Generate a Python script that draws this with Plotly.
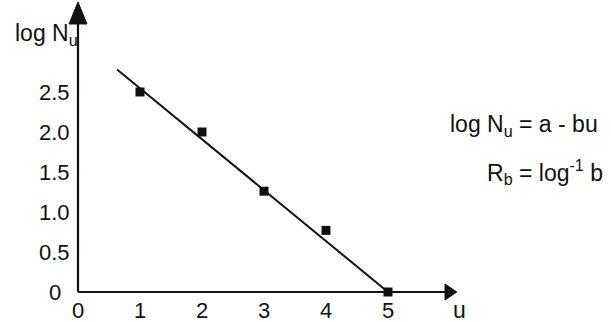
import plotly.graph_objects as go

# Observed points: u versus log N_u
u_values = [1, 2, 3, 4, 5]
log_nu = [2.5, 2.0, 1.26, 0.77, 0.0]

# Straight-line fit drawn through the points
fit_u = [0.63, 5.0]
fit_log_nu = [2.78, 0.0]

# Axis tick labels
x_ticks = [0, 1, 2, 3, 4, 5]
x_tick_text = ["0", "1", "2", "3", "4", "5"]
y_ticks = [0, 0.5, 1.0, 1.5, 2.0, 2.5]
y_tick_text = ["0", "0.5", "1.0", "1.5", "2.0", "2.5"]

FONT = "Liberation Sans, Arial, Helvetica, sans-serif"
INK = "#111111"
TICK_FONT = dict(size=22, color=INK, family=FONT)
TEXT_FONT = dict(size=23, color=INK, family=FONT)

fig = go.Figure()

fig.add_trace(go.Scatter(
    x=fit_u, y=fit_log_nu, mode="lines",
    line=dict(color=INK, width=2), hoverinfo="skip", showlegend=False,
))
fig.add_trace(go.Scatter(
    x=u_values, y=log_nu, mode="markers",
    marker=dict(symbol="square", size=9, color=INK),
    cliponaxis=False, showlegend=False,
))

# Axes drawn by hand so they can end in arrowheads
x_tip, y_tip = 6.11, 3.625
x_base, y_base = 5.92, 3.35
fig.add_shape(type="line", x0=0, y0=0, x1=x_base, y1=0,
              line=dict(color=INK, width=2.2))
fig.add_shape(type="line", x0=0, y0=0, x1=0, y1=y_base,
              line=dict(color=INK, width=2.2))
fig.add_shape(type="path", fillcolor=INK, line=dict(color=INK, width=1),
              path=f"M {x_tip} 0 L {x_base} 0.1 L {x_base} -0.1 Z")
fig.add_shape(type="path", fillcolor=INK, line=dict(color=INK, width=1),
              path=f"M 0 {y_tip} L -0.145 {y_base} L 0.145 {y_base} Z")

# Tick labels
for xv, lab in zip(x_ticks, x_tick_text):
    fig.add_annotation(x=xv, y=-0.225, text=lab, showarrow=False,
                       xanchor="center", yanchor="middle", font=TICK_FONT)
for yv, lab in zip(y_ticks, y_tick_text):
    fig.add_annotation(x=-0.097, y=yv, text=lab, showarrow=False,
                       xanchor="right", yanchor="middle", font=TICK_FONT,
                       xshift=-9 if yv == 0 else 0)

# Axis titles
fig.add_annotation(x=6.16, y=-0.225, text="u", showarrow=False,
                   xanchor="center", yanchor="middle", font=TEXT_FONT)
fig.add_annotation(x=-1.048, y=3.22, text="log N<sub>u</sub>", showarrow=False,
                   xanchor="left", yanchor="middle", font=TEXT_FONT)

# Relations beside the plot
fig.add_annotation(x=8.419, y=2.085, text="log N<sub>u</sub> = a - bu",
                   showarrow=False, xanchor="right", yanchor="middle",
                   font=TEXT_FONT)
fig.add_annotation(x=8.5, y=1.5, text="R<sub>b</sub> = log<sup>-1</sup> b",
                   showarrow=False, xanchor="right", yanchor="middle",
                   font=TEXT_FONT)

fig.update_xaxes(range=[-1.258, 8.597], visible=False)
fig.update_yaxes(range=[-0.375, 3.65], visible=False)

fig.update_layout(
    width=611, height=322,
    margin=dict(l=0, r=0, t=0, b=0),
    plot_bgcolor="white", paper_bgcolor="white",
    showlegend=False,
)

fig.write_html("out.html")
